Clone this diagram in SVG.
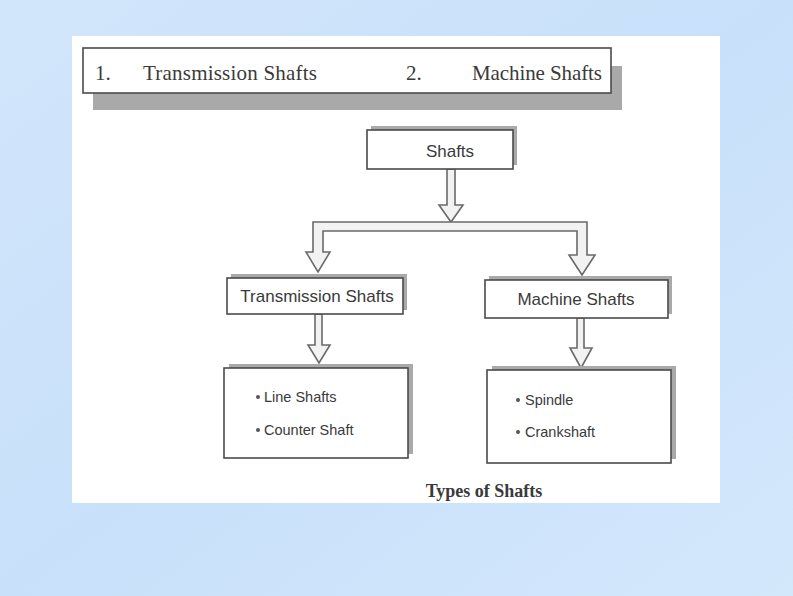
<svg xmlns="http://www.w3.org/2000/svg" width="793" height="596" viewBox="0 0 793 596">
<style>
.box{fill:#ffffff;stroke:#4a4a4a;stroke-width:1.6}
.shadow{fill:#a9a9a9}
.sans{font-family:"Liberation Sans",Arial,sans-serif;fill:#3a3a3a}
.serif{font-family:"Liberation Serif","Times New Roman",serif;fill:#3a3a3a}
.pipe{fill:#f2f2f2;stroke:#6a6a6a;stroke-width:1.6;stroke-linejoin:miter}
</style>
<defs>
<linearGradient id="bg" x1="0" y1="0" x2="1" y2="1">
<stop offset="0" stop-color="#d2e6fb"/>
<stop offset="0.5" stop-color="#c8e0fa"/>
<stop offset="1" stop-color="#d4e8fc"/>
</linearGradient>
</defs>
<rect x="0" y="0" width="793" height="596" fill="url(#bg)"/>
<rect x="72" y="36" width="648" height="467" fill="#ffffff"/>

<g id="banner">
<rect class="shadow" x="93" y="66" width="529" height="44"/>
<rect class="box" x="83" y="48" width="528" height="45"/>
<text class="serif" x="95" y="80" font-size="21">1.</text>
<text class="serif" x="143" y="80" font-size="21" textLength="174">Transmission Shafts</text>
<text class="serif" x="406" y="80" font-size="21">2.</text>
<text class="serif" x="472" y="80" font-size="21" textLength="130">Machine Shafts</text>
</g>

<g id="connectors">
<path class="pipe" d="M447 169 L447 205 L439 205 L451 222 L463 205 L455 205 L455 169 Z"/>
<path class="pipe" d="M313 252 L313 222 L587 222 L587 255 L595 255 L582 275 L569 255 L577 255 L577 231 L323 231 L323 252 L330 252 L318 272 L306 252 Z"/>
<path class="pipe" d="M315 314 L315 345 L308 345 L319 363 L330 345 L322 345 L322 314 Z"/>
<path class="pipe" d="M577 318 L577 348 L570 348 L581 368 L592 348 L584 348 L584 318 Z"/>
</g>

<g id="node-shafts">
<rect class="shadow" x="371" y="126" width="146" height="39"/>
<rect class="box" x="367" y="130" width="146" height="39"/>
<text class="sans" x="450" y="157" font-size="17" text-anchor="middle">Shafts</text>
</g>

<g id="node-transmission">
<rect class="shadow" x="231" y="274" width="176" height="36"/>
<rect class="box" x="227" y="278" width="176" height="36"/>
<text class="sans" x="317" y="302" font-size="17" text-anchor="middle">Transmission Shafts</text>
</g>

<g id="node-machine">
<rect class="shadow" x="489" y="276" width="183" height="38"/>
<rect class="box" x="485" y="280" width="183" height="38"/>
<text class="sans" x="576" y="305" font-size="17" text-anchor="middle">Machine Shafts</text>
</g>

<g id="node-transmission-list">
<rect class="shadow" x="229" y="364" width="184" height="90"/>
<rect class="box" x="224" y="368" width="184" height="90"/>
<circle cx="258" cy="397" r="2" fill="#555"/>
<text class="sans" x="264" y="402" font-size="14.5">Line Shafts</text>
<circle cx="258" cy="430" r="2" fill="#555"/>
<text class="sans" x="264" y="435" font-size="14.5">Counter Shaft</text>
</g>

<g id="node-machine-list">
<rect class="shadow" x="492" y="366" width="184" height="93"/>
<rect class="box" x="487" y="370" width="184" height="93"/>
<circle cx="518" cy="400" r="2" fill="#555"/>
<text class="sans" x="525" y="405" font-size="14.5">Spindle</text>
<circle cx="518" cy="432" r="2" fill="#555"/>
<text class="sans" x="525" y="437" font-size="14.5">Crankshaft</text>
</g>

<text class="serif" x="484" y="497" font-size="18" font-weight="bold" text-anchor="middle">Types of Shafts</text>
</svg>
